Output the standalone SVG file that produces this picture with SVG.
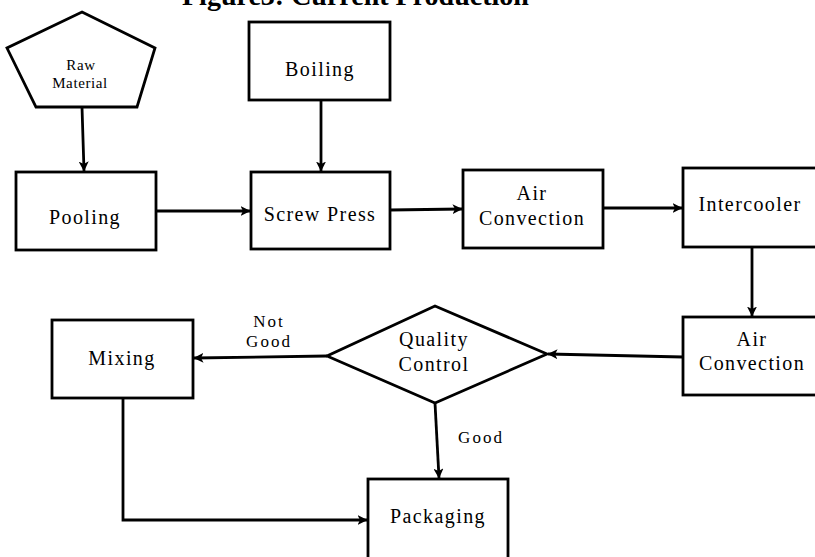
<svg xmlns="http://www.w3.org/2000/svg" width="815" height="557" viewBox="0 0 815 557">
<defs>
<style>
.box{fill:#fff;stroke:#000;stroke-width:2.8}
.t{font-family:"Liberation Serif","Times New Roman",serif;font-size:20px;letter-spacing:1.4px;fill:#000;text-anchor:middle}
.s{font-size:15px;letter-spacing:0.6px}
.l{font-size:17px;letter-spacing:2px}
.c{fill:none;stroke:#000;stroke-width:2.8}
</style>
<marker id="ah" viewBox="0 0 10 10" refX="9.5" refY="5" markerWidth="10" markerHeight="10" markerUnits="userSpaceOnUse" orient="auto">
<path d="M0,0 L10,5 L0,10 L2.5,5 z" fill="#000"/>
</marker>
</defs>
<rect width="815" height="557" fill="#fff"/>
<text x="182" y="5" style="font-family:'Liberation Serif','Times New Roman',serif;font-size:28px;font-weight:bold">Figure3: Current Production</text>

<g id="connectors">
<line class="c" x1="82" y1="107" x2="84" y2="171" marker-end="url(#ah)"/>
<line class="c" x1="321" y1="100" x2="321" y2="171" marker-end="url(#ah)"/>
<line class="c" x1="156" y1="211" x2="250" y2="211" marker-end="url(#ah)"/>
<line class="c" x1="390" y1="210" x2="462" y2="209" marker-end="url(#ah)"/>
<line class="c" x1="603" y1="208" x2="682" y2="208" marker-end="url(#ah)"/>
<line class="c" x1="752" y1="247" x2="752" y2="316" marker-end="url(#ah)"/>
<line class="c" x1="683" y1="357" x2="548" y2="354" marker-end="url(#ah)"/>
<line class="c" x1="327" y1="356" x2="194" y2="358" marker-end="url(#ah)"/>
<line class="c" x1="435" y1="403" x2="439" y2="478" marker-end="url(#ah)"/>
<polyline class="c" points="123,398 123,520 367,520" marker-end="url(#ah)"/>
<text class="t l" x="269" y="327">Not</text>
<text class="t l" x="269" y="347">Good</text>
<text class="t l" x="481" y="443">Good</text>
</g>

<g id="raw-material">
<polygon class="box" points="82,12 155,48 137,107 36,107 7,48"/>
<text class="t s" x="81" y="70">Raw</text>
<text class="t s" x="80" y="88">Material</text>
</g>
<g id="boiling">
<rect class="box" x="249" y="22" width="141" height="78"/>
<text class="t" x="320" y="76">Boiling</text>
</g>
<g id="pooling">
<rect class="box" x="16" y="172" width="140" height="78"/>
<text class="t" x="85" y="224">Pooling</text>
</g>
<g id="screw-press">
<rect class="box" x="251" y="172" width="139" height="77"/>
<text class="t" x="320" y="221">Screw Press</text>
</g>
<g id="air-convection-1">
<rect class="box" x="463" y="170" width="140" height="78"/>
<text class="t" x="532" y="200">Air</text>
<text class="t" x="532" y="225">Convection</text>
</g>
<g id="intercooler">
<rect class="box" x="683" y="168" width="136" height="79"/>
<text class="t" x="750" y="211">Intercooler</text>
</g>
<g id="air-convection-2">
<rect class="box" x="683" y="317" width="136" height="78"/>
<text class="t" x="752" y="346">Air</text>
<text class="t" x="752" y="370">Convection</text>
</g>
<g id="quality-control">
<polygon class="box" points="435,306 547,354 435,403 327,356"/>
<text class="t" x="434" y="346">Quality</text>
<text class="t" x="434" y="371">Control</text>
</g>
<g id="mixing">
<rect class="box" x="52" y="320" width="141" height="78"/>
<text class="t" x="122" y="365">Mixing</text>
</g>
<g id="packaging">
<rect class="box" x="368" y="479" width="140" height="80"/>
<text class="t" x="438" y="523">Packaging</text>
</g>
</svg>
